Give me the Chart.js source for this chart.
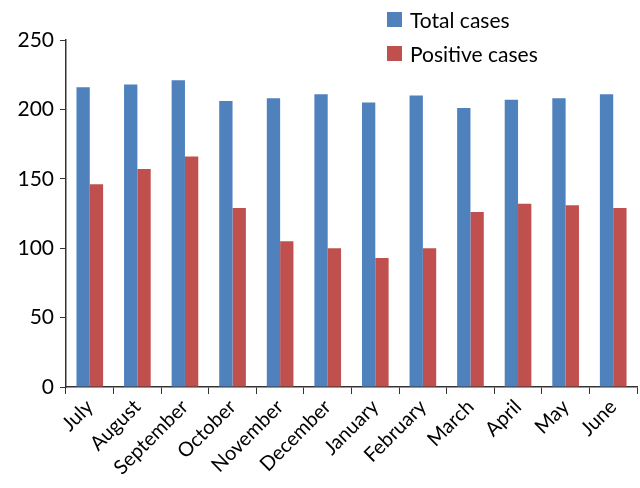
<!DOCTYPE html>
<html>
<head>
<meta charset="utf-8">
<script src="https://cdn.jsdelivr.net/npm/chart.js@4/dist/chart.umd.min.js"></script>
<style>
    html, body { margin: 0; padding: 0; background: #fff; }
    #wrap { position: relative; width: 640px; height: 488px; }
    #legend { position: absolute; left: 387px; top: 2px; font-family: Lato, "Open Sans", sans-serif; font-size: 21px; color: #000; }
    .legend-item { display: flex; align-items: center; height: 34px; }
    .legend-box { width: 15px; height: 15px; margin-right: 8px; }
</style>
</head>
<body>
<div id="wrap">
    <canvas id="chart" width="640" height="488"></canvas>
    <div id="legend"></div>
</div>
<script>
const months = ["July", "August", "September", "October", "November", "December",
    "January", "February", "March", "April", "May", "June"];
const totalCases = [216, 218, 221, 206, 208, 211, 205, 210, 201, 207, 208, 211];
const positiveCases = [146, 157, 166, 129, 105, 100, 93, 100, 126, 132, 131, 129];
const yTicks = [0, 50, 100, 150, 200, 250];

const FONT = "Lato, 'Open Sans', sans-serif";

const ctx = document.getElementById("chart").getContext("2d");
const chart = new Chart(ctx, {
    type: "bar",
    data: {
        labels: months,
        datasets: [
            { label: "Total cases", data: totalCases, backgroundColor: "#4F81BD" },
            { label: "Positive cases", data: positiveCases, backgroundColor: "#C0504D" }
        ]
    },
    options: {
        responsive: false,
        animation: false,
        layout: { padding: { top: 40, right: 3, left: 0, bottom: 0 } },
        datasets: { bar: { categoryPercentage: 0.56, barPercentage: 1.0 } },
        plugins: { legend: { display: false }, tooltip: { enabled: false } },
        scales: {
            x: {
                grid: { drawOnChartArea: false, drawTicks: true, tickLength: 7, color: "#333", offset: true },
                border: { color: "#333", width: 1.5 },
                ticks: {
                    autoSkip: false, maxRotation: 45, minRotation: 45, padding: 1,
                    color: "#000", font: { family: FONT, size: 20 }
                },
                afterFit: (scale) => { scale.height = 101; }
            },
            y: {
                min: 0, max: 250,
                afterBuildTicks: (scale) => { scale.ticks = yTicks.map(v => ({ value: v })); },
                grid: { drawOnChartArea: false, drawTicks: true, tickLength: 6, color: "#333" },
                border: { color: "#333", width: 1.5 },
                ticks: { padding: 6, color: "#000", font: { family: FONT, size: 21 } },
                afterFit: (scale) => { scale.width = 66; }
            }
        }
    }
});

// legend stacked top-right, built from the datasets
const legendEl = document.getElementById("legend");
chart.data.datasets.forEach(ds => {
    const item = document.createElement("div");
    item.className = "legend-item";
    item.innerHTML = `<span class="legend-box" style="background:${ds.backgroundColor}"></span><span>${ds.label}</span>`;
    legendEl.appendChild(item);
});
</script>
</body>
</html>
